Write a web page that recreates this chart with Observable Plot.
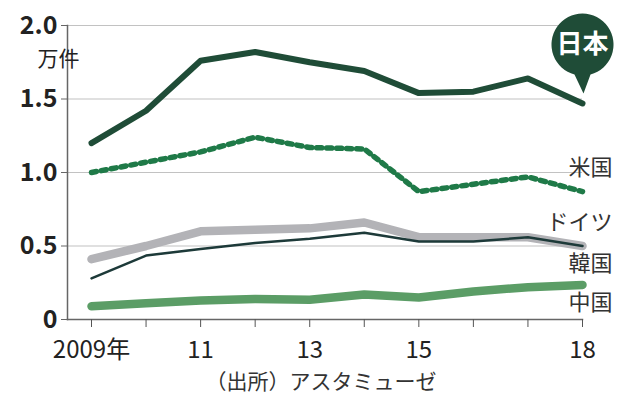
<!DOCTYPE html>
<html>
<head>
<meta charset="utf-8">
<script src="https://cdn.jsdelivr.net/npm/d3@7"></script>
<script src="https://cdn.jsdelivr.net/npm/@observablehq/plot@0.6"></script>
<style>
  html, body { margin: 0; padding: 0; background: #fff; }
</style>
</head>
<body>
<div id="chart"></div>
<script>
// ---- data ----
const years = [2009, 2010, 2011, 2012, 2013, 2014, 2015, 2016, 2017, 2018];
const japan   = [1.20, 1.42, 1.76, 1.82, 1.75, 1.69, 1.54, 1.55, 1.64, 1.47];
const usa     = [1.00, 1.07, 1.14, 1.24, 1.17, 1.16, 0.87, 0.92, 0.97, 0.87];
const germany = [0.41, 0.50, 0.60, 0.61, 0.62, 0.66, 0.56, 0.56, 0.56, 0.50];
const korea   = [0.28, 0.435, 0.48, 0.52, 0.55, 0.59, 0.53, 0.53, 0.56, 0.50];
const china   = [0.09, 0.11, 0.13, 0.14, 0.135, 0.17, 0.15, 0.19, 0.22, 0.235];

const yTicks = [0, 0.5, 1.0, 1.5, 2.0];
const yTickLabels = ["0", "0.5", "1.0", "1.5", "2.0"];
const xTickYears = [2009, 2011, 2013, 2015, 2018];
const xTickLabels = ["2009年", "11", "13", "15", "18"];

const seriesLabels = ["米国", "ドイツ", "韓国", "中国"];
const seriesLabelAt = [1.03, 0.655, 0.38, 0.11];   // value level of each end label
const calloutName = "日本";
const calloutAt = 1.87;                            // value level of the bubble centre
const unitLabel = "万件";
const sourceText = "（出所）アスタミューゼ";

// ---- build ----
const rows = (vals) => years.map((year, i) => ({year, value: vals[i]}));
const xLabelMap = new Map(xTickYears.map((y, i) => [y, xTickLabels[i]]));
const yLabelMap = new Map(yTicks.map((t, i) => [t, yTickLabels[i]]));
const endLabels = seriesLabels.map((name, i) => ({name, year: years[years.length - 1], value: seriesLabelAt[i]}));
const callout = [{name: calloutName, year: years[years.length - 1], value: calloutAt}];

const dark = "#1f4c37";
const pin = {
  draw(ctx) {
    const r = 31, a0 = 75 * Math.PI / 180, a1 = 105 * Math.PI / 180;
    ctx.moveTo(r * Math.cos(a0), r * Math.sin(a0));
    ctx.arc(0, 0, r, a0, a1, true);
    ctx.lineTo(1, 49);
    ctx.closePath();
  }
};

const chart = Plot.plot({
  width: 637,
  height: 394,
  marginLeft: 67,
  marginRight: 55,
  marginTop: 25,
  marginBottom: 75,
  insetLeft: 24,
  style: {fontFamily: "'Noto Sans CJK JP', 'Noto Sans', sans-serif", color: "#222", background: "#fff"},
  x: {domain: [years[0], years[years.length - 1]]},
  y: {domain: [0, 2]},
  marks: [
    Plot.ruleY(yTicks.slice(1), {stroke: "#c2c2c2", strokeWidth: 1.2}),
    Plot.frame({anchor: "left", stroke: "#666", strokeWidth: 1.5}),
    Plot.frame({anchor: "bottom", stroke: "#666", strokeWidth: 1.5}),
    Plot.axisY({ticks: yTicks, tickFormat: d => yLabelMap.get(d), tickSize: 6, tickPadding: 4,
      fontSize: 25, fontWeight: 600, stroke: "#666", label: null}),
    Plot.axisX({ticks: years, tickFormat: d => xLabelMap.get(d) ?? "", tickSize: 8, tickPadding: 13,
      fontSize: 24, stroke: "#555", label: null}),
    Plot.text([unitLabel], {frameAnchor: "top-left", lineAnchor: "middle", dx: -30, dy: 34, fontSize: 21, fill: "#222"}),
    Plot.lineY(rows(china), {x: "year", y: "value", stroke: "#5b9d66", strokeWidth: 8.5, strokeLinecap: "round", strokeLinejoin: "round"}),
    Plot.lineY(rows(germany), {x: "year", y: "value", stroke: "#b3b3b7", strokeWidth: 8.5, strokeLinecap: "round", strokeLinejoin: "round"}),
    Plot.lineY(rows(korea), {x: "year", y: "value", stroke: "#1d3a39", strokeWidth: 2.5, strokeLinecap: "round", strokeLinejoin: "round"}),
    Plot.lineY(rows(usa), {x: "year", y: "value", stroke: "#1f7a48", strokeWidth: 5.5, strokeDasharray: "5,5", strokeLinejoin: "miter"}),
    Plot.lineY(rows(japan), {x: "year", y: "value", stroke: dark, strokeWidth: 6, strokeLinecap: "round", strokeLinejoin: "round"}),
    Plot.text(endLabels, {x: "year", y: "value", text: "name", textAnchor: "end", dx: 30, fontSize: 22, fill: "#333"}),
    Plot.dot(callout, {x: "year", y: "value", symbol: pin, r: 30, fill: dark, stroke: "none"}),
    Plot.text(callout, {x: "year", y: "value", text: "name", fill: "#fff", fontSize: 26, fontWeight: "bold"}),
    Plot.text([sourceText], {frameAnchor: "bottom", lineAnchor: "middle", dx: -4, dy: 63, fontSize: 21, fill: "#333"})
  ]
});
document.getElementById("chart").append(chart);
</script>
</body>
</html>
